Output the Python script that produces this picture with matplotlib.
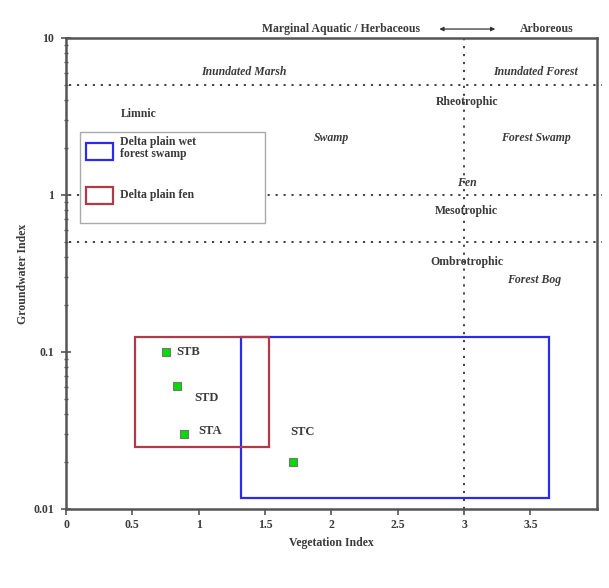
import matplotlib
matplotlib.use("Agg")
import matplotlib.pyplot as plt
from matplotlib.patches import Rectangle

plt.rcParams['font.family'] = ['Liberation Serif', 'DejaVu Serif']
plt.rcParams['font.weight'] = 'bold'
plt.rcParams['axes.labelweight'] = 'bold'

# Data
sites = ["STB", "STD", "STA", "STC"]
veg_index = [0.75, 0.84, 0.89, 1.71]
gw_index = [0.100, 0.061, 0.030, 0.020]

# Environment boxes: (x0, x1, y0, y1)
box_names = ["Delta plain wet\nforest swamp", "Delta plain fen"]
box_x0 = [1.32, 0.52]
box_x1 = [3.64, 1.53]
box_y0 = [0.0117, 0.0248]
box_y1 = [0.125, 0.125]
box_colors = ["#2b2bf0", "#b03a48"]

h_lines = [5, 1, 0.5]
v_line = 3

region_labels = ["Inundated Marsh", "Inundated Forest", "Limnic", "Rheotrophic", "Swamp",
                 "Forest Swamp", "Fen", "Mesotrophic", "Ombrotrophic", "Forest Bog"]
region_x = [1.34, 3.54, 0.55, 3.02, 2.0, 3.54, 3.02, 3.02, 3.02, 3.53]
region_y = [6.1, 6.1, 3.28, 3.91, 2.31, 2.31, 1.19, 0.79, 0.374, 0.288]
region_italic = [True, True, False, False, True, True, True, False, False, True]

x_ticks = [0, 0.5, 1, 1.5, 2, 2.5, 3, 3.5]
y_ticks = [0.01, 0.1, 1, 10]
y_ticklabels = ["0.01", "0.1", "1", "10"]

tc = "#3a3a3a"

fig = plt.figure(figsize=(6.09, 5.88), dpi=100)
ax = fig.add_axes([0.1084, 0.1344, 0.8716, 0.801])
ax.set_yscale('log')
ax.set_xlim(0, 4)
ax.set_ylim(0.01, 10)

for s in ax.spines.values():
    s.set_color("#555555")
    s.set_linewidth(1.8)

# reference lines
for h in h_lines:
    ax.plot([0.005, 1.01], [h, h], transform=ax.get_yaxis_transform(), ls=(0, (1.2, 3.2)),
            color="#333333", lw=1.3, clip_on=False, zorder=1)
ax.plot([v_line, v_line], [0, 1.0], transform=ax.get_xaxis_transform(), ls=(0, (1.2, 3.2)),
        color="#333333", lw=1.3, zorder=1)

# boxes
for x0, x1, y0, y1, c in zip(box_x0, box_x1, box_y0, box_y1, box_colors):
    ax.add_patch(Rectangle((x0, y0), x1 - x0, y1 - y0, fill=False, edgecolor=c, lw=1.6, zorder=3))

# points
ax.scatter(veg_index, gw_index, marker='s', s=38, color="#00dd00", edgecolor="#777777",
           linewidth=0.8, zorder=5)
label_off = [(0.08, 1.0), (0.13, 0.83), (0.11, 1.05), (-0.02, 1.55)]
for name, x, y, (dx, fy) in zip(sites, veg_index, gw_index, label_off):
    ax.text(x + dx, y * fy, name, fontsize=9, color=tc, ha='left', va='center', zorder=6)

# region labels
for t, x, y, it in zip(region_labels, region_x, region_y, region_italic):
    ax.text(x, y, t, fontsize=8.5, color=tc, ha='center', va='center',
            style='italic' if it else 'normal', zorder=2)

# top annotation
ty = 1.019
ax.text(0.518, ty, "Marginal Aquatic / Herbaceous", transform=ax.transAxes, fontsize=8.5,
        color=tc, ha='center', va='center')
ax.annotate("", xy=(0.814, ty), xytext=(0.698, ty), xycoords='axes fraction',
            arrowprops=dict(arrowstyle='<|-|>', color="#333333", lw=0.9, mutation_scale=6))
ax.text(0.905, ty, "Arboreous", transform=ax.transAxes, fontsize=8.5,
        color=tc, ha='center', va='center')

# legend (manual)
lx0, ly0, lw_, lh_ = (80 - 66) / 531, (509 - 223) / 471, 185 / 531, 91 / 471
ax.add_patch(Rectangle((lx0, ly0), lw_, lh_, transform=ax.transAxes, facecolor='white',
                       edgecolor="#aaaaaa", lw=1.0, zorder=7))
leg_py = [(509 - 160) / 471, (509 - 204) / 471]
for name, c, py in zip(box_names, box_colors, leg_py):
    ax.add_patch(Rectangle(((86 - 66) / 531, py), 27 / 531, 17 / 471, transform=ax.transAxes,
                           fill=False, edgecolor=c, lw=1.6, zorder=8))
    ax.text((120 - 66) / 531, py + 8.5 / 471 + (0.008 if '\n' in name else 0), name,
            transform=ax.transAxes, fontsize=8.5, color=tc, ha='left', va='center',
            linespacing=1.0, zorder=8)

ax.set_xticks(x_ticks)
ax.set_xticklabels([f"{v:g}" for v in x_ticks])
ax.set_yticks(y_ticks)
ax.set_yticklabels(y_ticklabels)
ax.tick_params(axis='both', which='major', labelsize=8.5, labelcolor=tc, color="#555555",
               length=4, width=1.2, direction='out')
ax.tick_params(axis='y', which='major', direction='inout', length=7, pad=5)
ax.tick_params(axis='y', which='minor', length=3, width=1.0, color="#555555", direction='inout')
ax.tick_params(axis='y', which='minor', labelleft=False)
ax.set_xlabel("Vegetation Index", fontsize=8.5, color=tc, labelpad=4)
ax.set_ylabel("Groundwater Index", fontsize=8.5, color=tc, labelpad=3)

fig.savefig("out.png", dpi=100)
